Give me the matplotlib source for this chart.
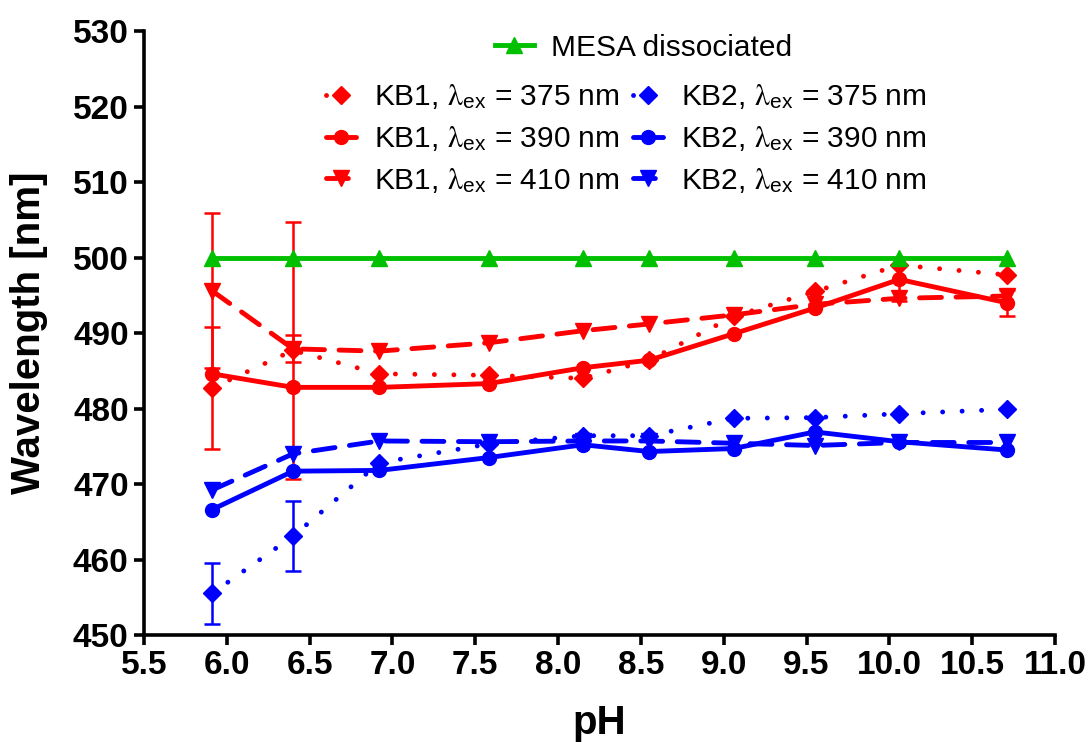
import numpy as np
import matplotlib
matplotlib.use("Agg")
import matplotlib.pyplot as plt

plt.rcParams['font.family'] = ['Liberation Sans', 'DejaVu Sans']
plt.rcParams['mathtext.fontset'] = 'stix'

# datos
ph = [5.91, 6.40, 6.92, 7.58, 8.15, 8.55, 9.06, 9.55, 10.06, 10.71]

mesa = [500, 500, 500, 500, 500, 500, 500, 500, 500, 500]

kb1_375 = [482.7, 487.7, 484.6, 484.4, 484.0, 486.4, 492.2, 495.5, 499.0, 497.7]
kb1_390 = [484.6, 482.8, 482.8, 483.3, 485.4, 486.4, 489.9, 493.3, 497.1, 494.0]
kb1_410 = [495.6, 487.9, 487.6, 488.7, 490.3, 491.2, 492.4, 493.8, 494.6, 494.9]
kb2_375 = [455.5, 463.1, 472.8, 475.3, 476.4, 476.4, 478.7, 478.8, 479.3, 479.9]
kb2_390 = [466.6, 471.7, 471.8, 473.5, 475.2, 474.3, 474.7, 476.9, 475.6, 474.5]
kb2_410 = [469.2, 474.0, 475.7, 475.6, 475.7, 475.7, 475.4, 475.1, 475.5, 475.5]

# barras de error (0 = sin barra)
kb1_375_err = [8.1, 17.0, 0, 0, 0, 0, 0, 0, 0, 0]
kb1_390_err = [0, 0, 0, 0, 0, 0, 0, 0, 2.8, 1.7]
kb1_410_err = [10.3, 1.8, 0, 0, 0, 0, 0, 0, 0, 0]
kb2_375_err = [4.1, 4.6, 0, 0, 0, 0, 0, 0, 0, 0]

rojo = '#ff0000'
azul = '#0000ff'
verde = '#00c000'

dotted = (0, (0.01, 4.0))
dashed = (0, (4.5, 3.0))

lam = r'$\mathrm{\lambda}_{\mathregular{ex}}$'
series = [
    (kb1_375, kb1_375_err, rojo, dotted, 'D', 9.5, 'KB1, ' + lam + ' = 375 nm'),
    (kb1_390, kb1_390_err, rojo, '-', 'o', 10, 'KB1, ' + lam + ' = 390 nm'),
    (kb1_410, kb1_410_err, rojo, dashed, 'v', 11, 'KB1, ' + lam + ' = 410 nm'),
    (kb2_375, kb2_375_err, azul, dotted, 'D', 9.5, 'KB2, ' + lam + ' = 375 nm'),
    (kb2_390, None, azul, '-', 'o', 10, 'KB2, ' + lam + ' = 390 nm'),
    (kb2_410, None, azul, dashed, 'v', 11, 'KB2, ' + lam + ' = 410 nm'),
]

fig = plt.figure(figsize=(10.91, 7.42), dpi=100)
ax = fig.add_axes([0.132, 0.1442, 0.835, 0.814])

x = np.array(ph)
handles = []
for vals, err, color, ls, mk, ms, label in series:
    y = np.array(vals)
    if err is not None:
        e = np.array(err)
        m = e > 0
        ax.errorbar(x[m], y[m], yerr=e[m], fmt='none', ecolor=color,
                    elinewidth=1.8, capsize=5.5, capthick=1.8)
    ln, = ax.plot(x, y, color=color, linestyle=ls, linewidth=3.5,
                  marker=mk, markersize=ms, dash_capstyle='round',
                  solid_capstyle='round', label=label)
    handles.append(ln)

mesa_ln, = ax.plot(x, mesa, color=verde, linewidth=3.5, marker='^',
                   markersize=11, label='MESA dissociated')

ax.set_xlim(5.5, 11.0)
ax.set_ylim(450, 530)
ax.set_xticks(np.arange(5.5, 11.01, 0.5))
ax.set_yticks(np.arange(450, 531, 10))
ax.set_xticklabels([f"{t:.1f}" for t in np.arange(5.5, 11.01, 0.5)])

for s in ['top', 'right']:
    ax.spines[s].set_visible(False)
for s in ['left', 'bottom']:
    ax.spines[s].set_linewidth(2.6)
ax.tick_params(width=2.6, length=7, labelsize=24, pad=4)
for lab in ax.get_xticklabels() + ax.get_yticklabels():
    lab.set_fontweight('bold')

ax.set_xlabel('pH', fontsize=29, fontweight='bold')
ax.set_ylabel('Wavelength [nm]', fontsize=29, fontweight='bold')
ax.xaxis.set_label_coords(0.5, -0.115)
ax.yaxis.set_label_coords(-0.105, 0.5)

leg1 = ax.legend(handles=[mesa_ln], loc='center left', bbox_to_anchor=(0.385, 0.972),
                 frameon=False, fontsize=21.5, handlelength=1.3, handletextpad=0.6,
                 borderpad=0, borderaxespad=0)
ax.add_artist(leg1)
ax.legend(handles=handles, loc='center left', bbox_to_anchor=(0.2, 0.822), ncol=2,
          frameon=False, fontsize=21.5, handlelength=1.0, handletextpad=0.6,
          columnspacing=0.45, labelspacing=0.42, borderpad=0, borderaxespad=0)

fig.savefig('out.png', dpi=100)
